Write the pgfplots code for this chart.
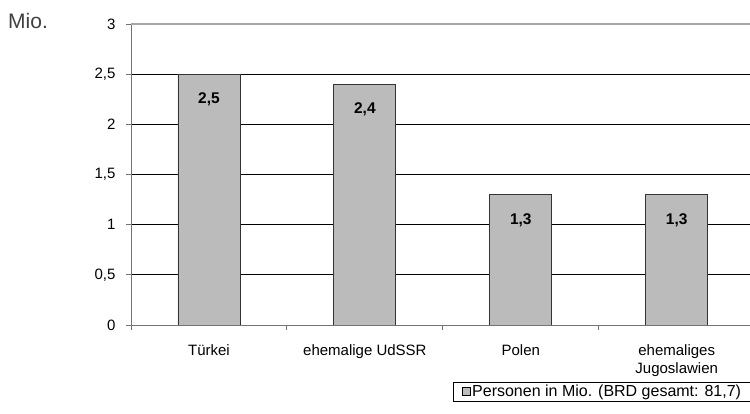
\documentclass[border=0pt]{standalone}
\usepackage{pgfplots}
\pgfplotsset{compat=1.18}
\usepackage{fontspec}
\setmainfont{Liberation Sans}
\definecolor{barfill}{HTML}{BBBBBB}
\begin{document}
\begin{tikzpicture}
\begin{axis}[
  name=ax,
  scale only axis, width=619pt, height=301pt,
  xmin=-0.5, xmax=3.47, ymin=0, ymax=3,
  ybar, bar width=62pt,
  axis x line*=bottom, axis y line*=left,
  axis line style={draw=black!55, line width=0.9pt},
  /pgf/number format/assume math mode=true,
  ytick={0,0.5,1,1.5,2,2.5},
  extra y ticks={3},
  extra y tick style={grid style={draw=black!35, line width=1.4pt}},
  ymajorgrids, grid style={draw=black, line width=0.9pt},
  yticklabel style={/pgf/number format/.cd, use comma, fixed, /tikz/.cd, xshift=-7pt},
  tick label style={font=\fontsize{15}{18}\selectfont},
  tick align=outside, major tick length=5pt, minor tick length=5pt,
  tick style={draw=black!55, line width=0.9pt},
  xtick={0,1,2,3},
  xticklabels={Türkei, ehemalige UdSSR, Polen, {ehemaliges\\Jugoslawien}},
  xticklabel style={align=center, yshift=-11pt},
  major x tick style={draw=none},
  minor xtick={-0.5,0.5,1.5,2.5},
  nodes near coords={\pgfmathprintnumber[use comma,fixed,precision=1]{\pgfplotspointmeta}},
  every node near coord/.append style={anchor=north, yshift=-15pt, font=\bfseries\fontsize{15.5}{18}\selectfont, text=black},
  legend image code/.code={\path (0pt,0pt); \draw[fill=barfill, draw=black, line width=0.7pt] (7pt,-4pt) rectangle (15pt,4pt);},
  legend style={at={(axis description cs:0.5202,-0.189)}, anchor=north west, draw=black, line width=0.8pt,
    font=\fontsize{16}{18}\selectfont, inner sep=1pt, legend cell align=left},
]
\addplot[fill=barfill, draw=black!80, line width=0.9pt] coordinates {(0,2.5) (1,2.4) (2,1.3) (3,1.3)};
\addlegendentry{\makebox[290pt][l]{Personen in Mio. (BRD gesamt: 81,7)}}
\end{axis}
\node[anchor=west, font=\fontsize{21}{24}\selectfont, text=black!75, inner sep=0] at ([xshift=-123pt,yshift=304pt]ax.south west) {Mio.};
\pgfresetboundingbox
\path[use as bounding box] ([xshift=-131pt,yshift=-89pt]ax.south west) rectangle ([xshift=619pt,yshift=325pt]ax.south west);
\end{tikzpicture}
\end{document}
